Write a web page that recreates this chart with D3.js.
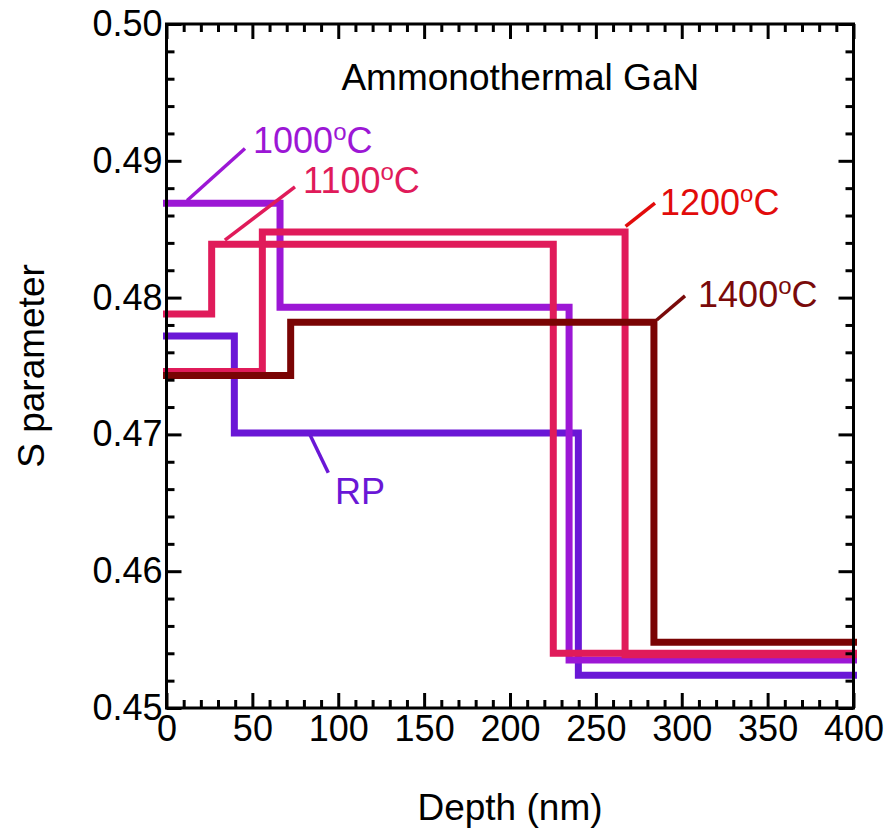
<!DOCTYPE html>
<html>
<head>
<meta charset="utf-8">
<script src="https://cdn.jsdelivr.net/npm/d3@7"></script>
<style>
  body { margin: 0; background: #fff; }
  svg { display: block; font-family: "Liberation Sans", Arial, sans-serif; }
</style>
</head>
<body>
<script>
// step profiles: depth where the layer changes, and S value of each layer
const seriesNames = ["RP", "1000", "1100", "1200", "1400"];
const stepDepths = {
  RP:   [39.5, 239.8],
  1000: [66.1, 234.4],
  1100: [26.3, 225.2],
  1200: [55.8, 267.0],
  1400: [72.3, 283.8]
};
const stepS = {
  RP:   [0.4772, 0.4701, 0.4524],
  1000: [0.4869, 0.4793, 0.4535],
  1100: [0.4788, 0.4839, 0.4540],
  1200: [0.4746, 0.4848, 0.4539],
  1400: [0.4743, 0.4782, 0.4548]
};
const lineColors = { RP: "#6a17d6", 1000: "#9c17d5", 1100: "#e01b5a", 1200: "#e01b5a", 1400: "#7a0404" };
const labelColors = { RP: "#6a17d6", 1000: "#9c17d5", 1100: "#e01b5a", 1200: "#e20b0b", 1400: "#7a0a0a" };

// annotation: [anchor on line], [leader end], [text start] in data units
const labelAnchor = { RP: [83.6, 0.46996], 1000: [12, 0.4871], 1100: [34, 0.4842], 1200: [267.3, 0.4852], 1400: [285.4, 0.47836] };
const labelElbow  = { RP: [94.2, 0.4672], 1000: [45.7, 0.4909], 1100: [74.8, 0.4881], 1200: [284.4, 0.4869], 1400: [301.9, 0.48012] };
const labelText   = { RP: [98.1, 0.46491], 1000: [50.4, 0.49057], 1100: [79.5, 0.48762], 1200: [287.3, 0.48604], 1400: [309.5, 0.47933] };

const xTicks = [0, 50, 100, 150, 200, 250, 300, 350, 400];
const yTicks = [0.45, 0.46, 0.47, 0.48, 0.49, 0.50];

const W = 890, H = 836;
const m = { left: 166.5, top: 24, right: W - 853.5, bottom: H - 708 };

const svg = d3.select("body").append("svg")
  .attr("width", W).attr("height", H);

const x = d3.scaleLinear().domain([0, 400]).range([m.left, W - m.right]);
const y = d3.scaleLinear().domain([0.45, 0.50]).range([H - m.bottom, m.top]);

// data lines
const line = d3.line()
  .x(d => x(d[0])).y(d => y(d[1]))
  .curve(d3.curveStepAfter);

seriesNames.forEach(k => {
  const b = stepDepths[k], s = stepS[k];
  const pts = [[0, s[0]], [b[0], s[1]], [b[1], s[2]], [400, s[2]]];
  svg.append("path")
    .attr("d", line(pts))
    .attr("fill", "none")
    .attr("stroke", lineColors[k])
    .attr("stroke-width", 7)
    .attr("stroke-linecap", "square")
    .attr("stroke-linejoin", "miter");
});

// axes, ticks inward on all four sides
const minorX = d3.range(0, 401, 10).filter(v => v % 50 !== 0);
const minorY = d3.range(0.45, 0.5001, 0.002).filter(v => Math.abs(v * 100 - Math.round(v * 100)) > 1e-6);

function styleAxis(g) {
  g.select(".domain").remove();
  g.selectAll(".tick line").attr("stroke", "#000").attr("stroke-width", 3);
  g.selectAll(".tick text").attr("fill", "#000").style("font-size", "36px");
}

svg.append("g").attr("transform", `translate(0,${H - m.bottom})`)
  .call(d3.axisBottom(x).tickValues(xTicks).tickFormat(d3.format("d")).tickSize(-15).tickPadding(7))
  .call(styleAxis);
svg.append("g").attr("transform", `translate(0,${H - m.bottom})`)
  .call(d3.axisBottom(x).tickValues(minorX).tickFormat("").tickSize(-8))
  .call(styleAxis);
svg.append("g").attr("transform", `translate(0,${m.top})`)
  .call(d3.axisTop(x).tickValues(xTicks).tickFormat("").tickSize(-15))
  .call(styleAxis);
svg.append("g").attr("transform", `translate(0,${m.top})`)
  .call(d3.axisTop(x).tickValues(minorX).tickFormat("").tickSize(-8))
  .call(styleAxis);

svg.append("g").attr("transform", `translate(${m.left},0)`)
  .call(d3.axisLeft(y).tickValues(yTicks).tickFormat(d3.format(".2f")).tickSize(-15).tickPadding(4))
  .call(styleAxis);
svg.append("g").attr("transform", `translate(${m.left},0)`)
  .call(d3.axisLeft(y).tickValues(minorY).tickFormat("").tickSize(-8))
  .call(styleAxis);
svg.append("g").attr("transform", `translate(${W - m.right},0)`)
  .call(d3.axisRight(y).tickValues(yTicks).tickFormat("").tickSize(-15))
  .call(styleAxis);
svg.append("g").attr("transform", `translate(${W - m.right},0)`)
  .call(d3.axisRight(y).tickValues(minorY).tickFormat("").tickSize(-8))
  .call(styleAxis);

// frame
svg.append("rect")
  .attr("x", m.left).attr("y", m.top)
  .attr("width", W - m.left - m.right).attr("height", H - m.top - m.bottom)
  .attr("fill", "none").attr("stroke", "#000").attr("stroke-width", 3);

// series labels with leader lines
seriesNames.forEach(k => {
  const a = labelAnchor[k], e = labelElbow[k], t = labelText[k];
  svg.append("line")
    .attr("x1", x(a[0])).attr("y1", y(a[1]))
    .attr("x2", x(e[0])).attr("y2", y(e[1]))
    .attr("stroke", labelColors[k]).attr("stroke-width", 3.5);
  const txt = svg.append("text")
    .attr("x", x(t[0])).attr("y", y(t[1]))
    .attr("fill", labelColors[k])
    .style("font-size", "36px");
  if (k === "RP") {
    txt.text("RP");
  } else {
    txt.append("tspan").text(k + "");
    txt.append("tspan").text("o").style("font-size", "24px").attr("dy", -13);
    txt.append("tspan").text("C").attr("dy", 13);
  }
});

// title inside plot
svg.append("text")
  .attr("x", x(206)).attr("y", y(0.49518))
  .attr("text-anchor", "middle")
  .style("font-size", "37px")
  .text("Ammonothermal GaN");

// axis titles
svg.append("text")
  .attr("x", (m.left + W - m.right) / 2).attr("y", 820)
  .attr("text-anchor", "middle")
  .style("font-size", "37px")
  .text("Depth (nm)");

svg.append("text")
  .attr("transform", `translate(44,${(m.top + H - m.bottom) / 2}) rotate(-90)`)
  .attr("text-anchor", "middle")
  .style("font-size", "37px")
  .text("S parameter");
</script>
</body>
</html>
